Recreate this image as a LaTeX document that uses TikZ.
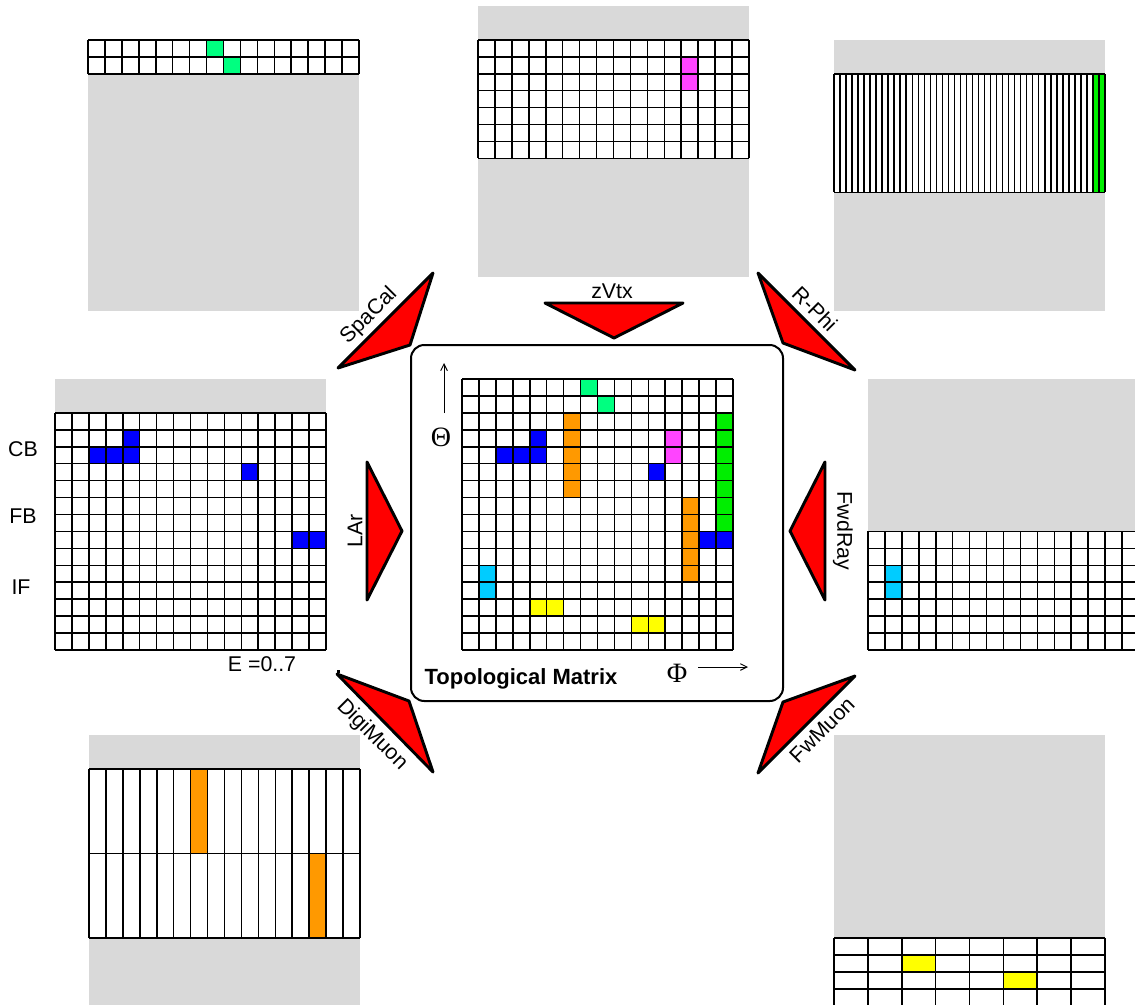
\documentclass[tikz,border=0pt]{standalone}
\usepackage{fontspec}
\setmainfont{Liberation Sans}
\newfontfamily\greekfont{Liberation Serif}
\usetikzlibrary{arrows.meta}
\definecolor{panelgray}{RGB}{217,217,217}
\definecolor{hitspring}{RGB}{0,255,128}
\definecolor{hitorange}{RGB}{255,153,0}
\definecolor{hitblue}{RGB}{0,0,255}
\definecolor{hitmagenta}{RGB}{255,68,255}
\definecolor{hitgreen}{RGB}{0,238,0}
\definecolor{hitcyan}{RGB}{0,204,255}
\definecolor{hityellow}{RGB}{255,255,0}
% grid lines: origin (#1,#2), #3 x #4 cells of size #5 x #6
\newcommand{\cellgrid}[6]{%
  \foreach \i in {0,...,#3} \draw[gline] ({#1+\i*#5},#2) -- ++(0,{#4*#6});
  \foreach \j in {0,...,#4} \draw[gline] (#1,{#2+\j*#6}) -- ++({#3*#5},0);}
\tikzset{
  panel/.style={shift={#1},x=12.7pt,y=-12.7pt},
  gline/.style={line width=1.15pt,black},
  wedge/.style={fill=red,draw=black,line width=2.2pt,line join=round},
  lbl/.style={font=\fontsize{16}{18}\selectfont,inner sep=0pt},
  greek/.style={font=\greekfont\fontsize{21}{24}\selectfont,inner sep=0pt},
  axarr/.style={-{Straight Barb[length=5pt,width=5pt]},line width=0.7pt}
}

\begin{document}
\begin{tikzpicture}[x=0.75pt,y=-0.75pt]
  \useasboundingbox (0,0) rectangle (1135,1004);
  \clip (0,0) rectangle (1135,1004);
  % panel : SpaCal
  \begin{scope}[panel={(88,40)}]
    \fill[panelgray] (0,0) rectangle (16,16);
    \fill[white] (0,0) rectangle (16,2);
    \fill[hitspring] (7,0) rectangle ++(1,1);
    \fill[hitspring] (8,1) rectangle ++(1,1);
    \cellgrid{0}{0}{16}{2}{1}{1}
  \end{scope}
  % panel : zVtx
  \begin{scope}[panel={(478,6)}]
    \fill[panelgray] (0,0) rectangle (16,16);
    \fill[white] (0,2) rectangle (16,9);
    \fill[hitmagenta] (12,3) rectangle ++(1,2);
    \cellgrid{0}{2}{16}{7}{1}{1}
  \end{scope}
  % panel : R-Phi
  \begin{scope}[panel={(834,40)}]
    \fill[panelgray] (0,0) rectangle (16,16);
    \fill[white] (0,2) rectangle (16,9);
    \fill[hitgreen] ({43*16/45},2) rectangle (16,9);
    \cellgrid{0}{2}{45}{1}{16/45}{7}
  \end{scope}
  % panel : LAr
  \begin{scope}[panel={(55,379)}]
    \fill[panelgray] (0,0) rectangle (16,16);
    \fill[white] (0,2) rectangle (16,16);
    \fill[hitblue] (4,3) rectangle ++(1,1);
    \fill[hitblue] (2,4) rectangle ++(3,1);
    \fill[hitblue] (11,5) rectangle ++(1,1);
    \fill[hitblue] (14,9) rectangle ++(2,1);
    \cellgrid{0}{2}{16}{14}{1}{1}
  \end{scope}
  % panel : FwdRay
  \begin{scope}[panel={(868,379)}]
    \fill[panelgray] (0,0) rectangle (16,16);
    \fill[white] (0,9) rectangle (16,16);
    \fill[hitcyan] (1,11) rectangle ++(1,2);
    \cellgrid{0}{9}{16}{7}{1}{1}
  \end{scope}
  % panel : DigiMuon
  \begin{scope}[panel={(89,735)}]
    \fill[panelgray] (0,0) rectangle (16,16);
    \fill[white] (0,2) rectangle (16,12);
    \fill[hitorange] (6,2) rectangle ++(1,5);
    \fill[hitorange] (13,7) rectangle ++(1,5);
    \cellgrid{0}{2}{16}{2}{1}{5}
  \end{scope}
  % panel : FwMuon
  \begin{scope}[panel={(834,735)}]
    \fill[panelgray] (0,0) rectangle (16,16);
    \fill[white] (0,12) rectangle (16,16);
    \fill[hityellow] (4,13) rectangle ++(2,1);
    \fill[hityellow] (10,14) rectangle ++(2,1);
    \cellgrid{0}{12}{8}{4}{2}{1}
  \end{scope}
  % centre : topological matrix
  \draw[line width=1.5pt,rounded corners=10pt] (411,345) rectangle (783,701);
  \begin{scope}[panel={(462,379)}]
    \fill[white] (0,0) rectangle (16,16);
    \fill[hitspring] (7,0) rectangle ++(1,1);
    \fill[hitspring] (8,1) rectangle ++(1,1);
    \fill[hitorange] (6,2) rectangle ++(1,5);
    \fill[hitblue] (4,3) rectangle ++(1,1);
    \fill[hitblue] (2,4) rectangle ++(3,1);
    \fill[hitmagenta] (12,3) rectangle ++(1,2);
    \fill[hitblue] (11,5) rectangle ++(1,1);
    \fill[hitgreen] (15,2) rectangle ++(1,7);
    \fill[hitorange] (13,7) rectangle ++(1,5);
    \fill[hitblue] (14,9) rectangle ++(2,1);
    \fill[hitcyan] (1,11) rectangle ++(1,2);
    \fill[hityellow] (4,13) rectangle ++(2,1);
    \fill[hityellow] (10,14) rectangle ++(2,1);
    \cellgrid{0}{0}{16}{16}{1}{1}
  \end{scope}
  \coordinate (thtail) at (444,413);
  \coordinate (thhead) at (444,363);
  \coordinate (phtail) at (698,667);
  \coordinate (phhead) at (748,667);
  \draw[axarr] (thtail) -- (thhead);
  \draw[axarr] (phtail) -- (phhead);
  \node[greek] (theta) at (441,437) {Θ};
  \node[greek] (phi) at (677,673) {Φ};
  \node[lbl,font=\bfseries\fontsize{16.5}{18}\selectfont] (topo) at (521,679) {Topological Matrix};
  % wedges
  \draw[wedge] (338,368) -- (433,273) -- (410,345) -- cycle;
  \draw[wedge] (758,273) -- (855,370) -- (783,343) -- cycle;
  \draw[wedge] (337,674) -- (409,701) -- (433,772) -- cycle;
  \draw[wedge] (855,676) -- (783,702) -- (758,773) -- cycle;
  \draw[wedge] (545,303) -- (683,303) -- (614,338) -- cycle;
  \draw[wedge] (367,462) -- (402,531) -- (367,600) -- cycle;
  \draw[wedge] (825,462) -- (790,531) -- (825,600) -- cycle;
  \node[lbl,rotate=45] (spacal) at (369,316) {SpaCal};
  \node[lbl,rotate=-45] (rphi) at (815,309) {R-Phi};
  \node[lbl,rotate=-45] (digimuon) at (372,735) {DigiMuon};
  \node[lbl,rotate=45] (fwmuon) at (822,730) {FwMuon};
  \node[lbl] (zvtx) at (612,291) {zVtx};
  \node[lbl,rotate=90] (lar) at (355,531) {LAr};
  \node[lbl,rotate=-90] (fwdray) at (843,531) {FwdRay};
  % LAr side labels
  \node[lbl] (cb) at (23,449) {CB};
  \node[lbl] (fb) at (23,516) {FB};
  \node[lbl] (if) at (21,587) {IF};
  \node[lbl] (erange) at (262,664) {E =0..7};
  \fill (336.5,669.5) rectangle ++(3,3);
\end{tikzpicture}
\end{document}
